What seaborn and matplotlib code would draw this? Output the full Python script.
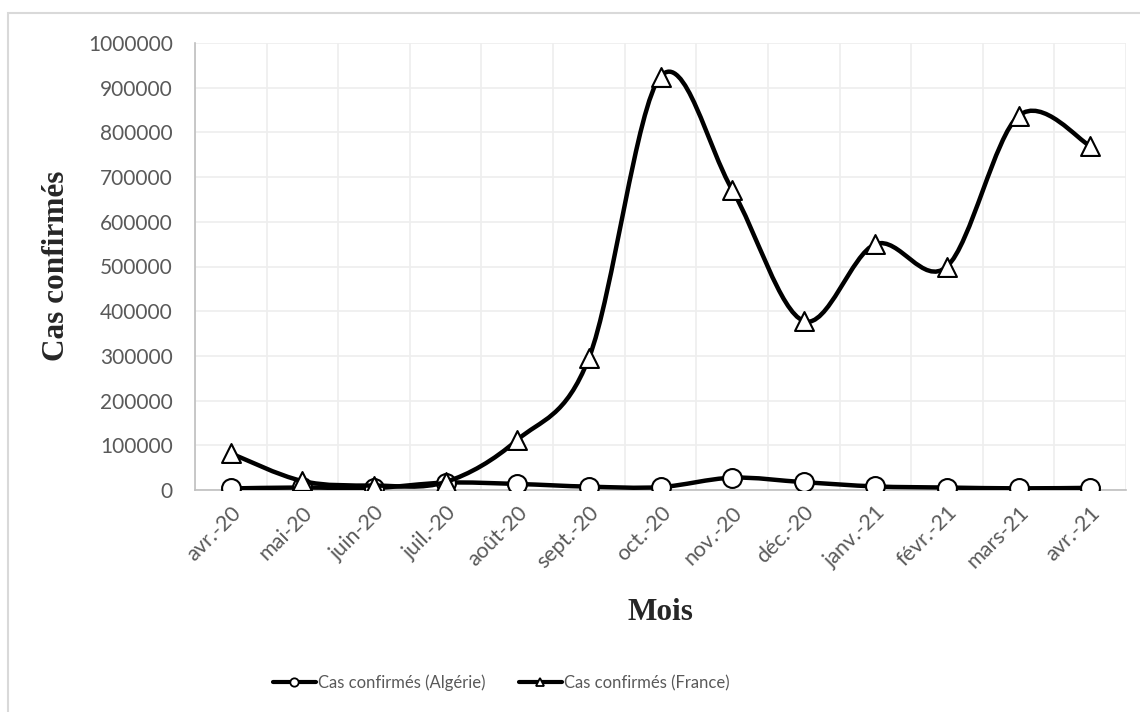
import numpy as np
import pandas as pd
import matplotlib
matplotlib.use("Agg")
import matplotlib.pyplot as plt
from matplotlib.path import Path
from matplotlib.patches import PathPatch, Rectangle
from matplotlib.lines import Line2D
import seaborn as sns

# Monthly confirmed COVID-19 cases
months = ["avr.-20", "mai-20", "juin-20", "juil.-20", "août-20", "sept.-20",
          "oct.-20", "nov.-20", "déc.-20", "janv.-21", "févr.-21", "mars-21", "avr.-21"]
cas_algerie = [3500, 5600, 4500, 16500, 13500, 7500, 6500, 27500, 17500, 8000, 5500, 3700, 4800]
cas_france = [82000, 20000, 10000, 18000, 112000, 295000, 925000, 672000, 378000,
              550000, 500000, 837000, 770000]
y_ticks = list(range(0, 1000001, 100000))

TEXT_GREY = "#595959"

sns.set_theme(style="white")
plt.rcParams["font.family"] = ["Lato", "DejaVu Sans"]

df = pd.DataFrame({"pos": np.arange(len(months)), "mois": months,
                   "algerie": cas_algerie, "france": cas_france})

fig = plt.figure(figsize=(11.4, 7.12), dpi=100)
# chart-area frame
fig.patches.append(Rectangle((8 / 1140, -0.1), 1.2, 1 - 13 / 712 + 0.1,
                             transform=fig.transFigure, fill=False,
                             edgecolor="#d9d9d9", linewidth=1.5, zorder=0))

ax = fig.add_axes([195 / 1140, 1 - 490 / 712, 931 / 1140, 447 / 712])


def smooth_path(xs, ys):
    """Cubic Bezier path through the points (Catmull-Rom control points)."""
    pts = np.column_stack([xs, ys]).astype(float)
    n = len(pts)
    verts = [pts[0]]
    codes = [Path.MOVETO]
    for i in range(n - 1):
        p0 = pts[i - 1] if i > 0 else pts[i]
        p1, p2 = pts[i], pts[i + 1]
        p3 = pts[i + 2] if i + 2 < n else pts[i + 1]
        verts += [p1 + (p2 - p0) / 6, p2 - (p3 - p1) / 6, p2]
        codes += [Path.CURVE4] * 3
    return Path(verts, codes)


for col, marker, z in [("algerie", "o", 3), ("france", "^", 5)]:
    ax.add_patch(PathPatch(smooth_path(df["pos"], df[col]), facecolor="none",
                           edgecolor="black", linewidth=3.2, capstyle="round",
                           joinstyle="round", zorder=z))
    sns.scatterplot(data=df, x="pos", y=col, marker=marker, s=185,
                    color="white", edgecolor="black", linewidth=1.5,
                    ax=ax, zorder=z + 1, legend=False)

ax.set_xlim(-0.5, len(months) - 0.5)
ax.set_ylim(0, 1000000)
ax.set_xticks(df["pos"])
ax.set_xticklabels(months, rotation=45, ha="right", rotation_mode="anchor")
ax.set_xticks(np.arange(-0.5, len(months)), minor=True)
ax.set_yticks(y_ticks)
ax.set_yticklabels([str(v) for v in y_ticks])
ax.grid(axis="y", which="major", color="#eeeeee", linewidth=1.2, zorder=0)
ax.grid(axis="x", which="minor", color="#eeeeee", linewidth=1.2, zorder=0)
ax.set_axisbelow(True)
ax.tick_params(axis="both", which="both", length=0, labelcolor=TEXT_GREY)
ax.tick_params(axis="x", pad=9, labelsize=15.5)
ax.tick_params(axis="y", pad=16, labelsize=15)
for side in ["top", "right"]:
    ax.spines[side].set_visible(False)
for side in ["left", "bottom"]:
    ax.spines[side].set_color("#bfbfbf")
    ax.spines[side].set_linewidth(1.2)
ax.set_xlabel("")
ax.set_ylabel("")

fig.text(57 / 1140, 1 - 266 / 712, "Cas confirmés", rotation=90, ha="center", va="center",
         fontsize=22.5, fontweight="bold", family=["Liberation Serif", "DejaVu Serif"])
fig.text(660 / 1140, 1 - 612 / 712, "Mois", ha="center", va="center",
         fontsize=22.5, fontweight="bold", family=["Liberation Serif", "DejaVu Serif"])

handles = [
    Line2D([0], [0], color="black", lw=3, marker="o", markersize=6,
           markerfacecolor="white", markeredgecolor="black", markeredgewidth=1.3),
    Line2D([0], [0], color="black", lw=3, marker="^", markersize=6,
           markerfacecolor="white", markeredgecolor="black", markeredgewidth=1.3),
]
leg = fig.legend(handles, ["Cas confirmés (Algérie)", "Cas confirmés (France)"],
                 loc="center", bbox_to_anchor=(501 / 1140, 1 - 683 / 712), ncol=2,
                 frameon=False, fontsize=12, handlelength=2.6, handletextpad=0.1,
                 columnspacing=2.0)
for t in leg.get_texts():
    t.set_color(TEXT_GREY)

fig.savefig("out.png", dpi=100)
